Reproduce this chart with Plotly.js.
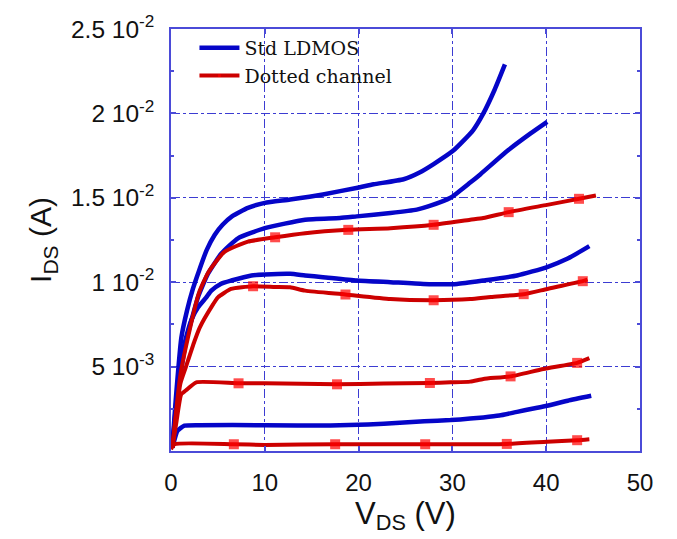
<!DOCTYPE html>
<html>
<head>
<meta charset="utf-8">
<script src="https://cdn.plot.ly/plotly-3.0.1.min.js"></script>
<style>html,body{margin:0;padding:0;background:#fff;}#chart{width:677px;height:539px;}</style>
</head>
<body>
<div id="chart"></div>
<script>
// Std LDMOS curves (VDS in V, IDS in A)
const stdX1 = [0.15, 0.5, 1.1, 1.7, 2.33, 3.0, 3.8, 4.65, 5.5, 6.5, 8.2, 10, 12.7, 16.2, 19.9, 21.6, 24.8, 26.5, 28, 30.1, 32.2, 33.3, 34.5, 35.6];
const stdY1 = [0.0003, 0.003, 0.0067, 0.0083, 0.0096, 0.0107, 0.0119, 0.0128, 0.0134, 0.0139, 0.0144, 0.0147, 0.0149, 0.0152, 0.0156, 0.0158, 0.0161, 0.0165, 0.0170, 0.0178, 0.0190, 0.0200, 0.0214, 0.0229];
const stdX2 = [0.15, 0.6, 1.2, 1.6, 2.16, 2.87, 3.94, 5.37, 7.14, 10, 14.3, 18, 19.8, 23.4, 26.2, 27.5, 29.8, 31.9, 33, 35.9, 38.3, 40.1];
const stdY2 = [0.0002, 0.0028, 0.0052, 0.0065, 0.0077, 0.0091, 0.0105, 0.0117, 0.0126, 0.0132, 0.0137, 0.0138, 0.0139, 0.0141, 0.0143, 0.0145, 0.0150, 0.0159, 0.0164, 0.0178, 0.0188, 0.0195];
const stdX3 = [0.15, 0.55, 1.0, 1.6, 2.2, 2.87, 3.76, 4.3, 5.3, 6.44, 8.58, 10, 12.7, 14.3, 16.2, 19.8, 23.4, 26.9, 30.5, 33.3, 36.9, 40.1, 42.3, 44.6];
const stdY3 = [0.0002, 0.0028, 0.0050, 0.0067, 0.0078, 0.0085, 0.0091, 0.0095, 0.0099, 0.0101, 0.0104, 0.01046, 0.0105, 0.0104, 0.0103, 0.0101, 0.0100, 0.0099, 0.0099, 0.0101, 0.0104, 0.0109, 0.0114, 0.01214];
const stdX4 = [0.15, 0.7, 1.44, 3, 10, 17, 21, 24.4, 27, 29.8, 31.9, 33.3, 35, 36.9, 38.5, 40.1, 42.3, 44.8];
const stdY4 = [0.0002, 0.0012, 0.0015, 0.00153, 0.00153, 0.00151, 0.00157, 0.00167, 0.00176, 0.00183, 0.00192, 0.00199, 0.0021, 0.00232, 0.0025, 0.00268, 0.00298, 0.00327];

// Dotted channel curves
const dotX1 = [0.15, 1.0, 2.0, 3.0, 4.0, 5.7, 8.2, 11.1, 14.3, 18.9, 23.4, 28, 31.9, 33.3, 36, 40.1, 43.5, 45.3];
const dotY1 = [0.0002, 0.0045, 0.0072, 0.0094, 0.0106, 0.0118, 0.0124, 0.01266, 0.0129, 0.0131, 0.0132, 0.0134, 0.0137, 0.0138, 0.01415, 0.01458, 0.01494, 0.01514];
const dotMark1 = [11.1, 18.9, 28, 36, 43.5];
const dotX2 = [0.15, 1.0, 1.6, 2.5, 3.05, 4.5, 5.0, 6.4, 8.75, 11.1, 12.7, 14.3, 18.6, 23.4, 28, 31.9, 34.1, 37.6, 40.1, 43.9, 44.4];
const dotY2 = [0.0002, 0.0040, 0.0050, 0.0065, 0.0073, 0.0087, 0.0091, 0.0096, 0.00976, 0.00972, 0.0097, 0.0095, 0.00927, 0.0090, 0.00893, 0.0090, 0.00913, 0.00929, 0.0096, 0.01006, 0.01016];
const dotMark2 = [8.75, 18.6, 28, 37.6, 43.9];
const dotX3 = [0.15, 0.6, 1.1, 1.6, 2.7, 7.2, 10, 17.7, 22.7, 27.6, 29.8, 31.9, 33.3, 36.2, 39.7, 43.3, 44.6];
const dotY3 = [0.0002, 0.0018, 0.00337, 0.0036, 0.00407, 0.00401, 0.00401, 0.00395, 0.0040, 0.00403, 0.00407, 0.00411, 0.00427, 0.00442, 0.00486, 0.00522, 0.0055];
const dotMark3 = [7.2, 17.7, 27.6, 36.2, 43.3];
const dotX4 = [0.0, 0.37, 6.7, 10, 17.5, 27.1, 31.9, 35.8, 40.1, 43.3, 44.6];
const dotY4 = [0.0001, 0.0004, 0.0004, 0.00036, 0.0004, 0.0004, 0.0004, 0.00042, 0.00055, 0.00064, 0.0007];
const dotMark4 = [6.7, 17.5, 27.1, 35.8, 43.3];

const xTickVals = [0, 10, 20, 30, 40, 50];
const xTickText = ['0', '10', '20', '30', '40', '50'];
const yTickVals = [0.005, 0.01, 0.015, 0.02, 0.025];
const yTickText = ['5 10<sup>-3</sup>', '1 10<sup>-2</sup>', '1.5 10<sup>-2</sup>', '2 10<sup>-2</sup>', '2.5 10<sup>-2</sup>'];

const BLUE = '#0505c8';
const RED = '#cc0000';
const RED_MARK = '#ff0000';

const traces = [];
const stdSets = [[stdX1, stdY1], [stdX2, stdY2], [stdX3, stdY3], [stdX4, stdY4]];
stdSets.forEach((s, i) => {
  traces.push({
    x: s[0], y: s[1], type: 'scatter', mode: 'lines',
    name: 'Std LDMOS', legendgroup: 'std', showlegend: i === 0,
    line: {color: BLUE, width: 4.5, shape: 'spline', smoothing: 0.5}
  });
});
const dotSets = [[dotX1, dotY1, dotMark1], [dotX2, dotY2, dotMark2], [dotX3, dotY3, dotMark3], [dotX4, dotY4, dotMark4]];
dotSets.forEach((s, i) => {
  const sizes = s[0].map(v => s[2].includes(v) ? 10 : 0);
  traces.push({
    x: s[0], y: s[1], type: 'scatter', mode: 'lines+markers',
    name: 'Dotted channel', legendgroup: 'dot', showlegend: i === 0,
    line: {color: RED, width: 4, shape: 'spline', smoothing: 0.5},
    marker: {symbol: 'square', size: sizes, color: RED_MARK, line: {width: 0}}
  });
});

const axisColor = '#4b4bd8';
const gridColor = '#3c3cd2';
const layout = {
  width: 677, height: 539,
  margin: {l: 171, r: 37, t: 29, b: 88},
  paper_bgcolor: '#ffffff', plot_bgcolor: '#ffffff',
  showlegend: true,
  legend: {
    x: 0.05, y: 1.0, xanchor: 'left', yanchor: 'top',
    bgcolor: 'rgba(255,255,255,0)', borderwidth: 0,
    font: {family: 'DejaVu Serif', size: 19, color: '#111'},
    traceorder: 'grouped', tracegroupgap: 0, itemwidth: 40
  },
  xaxis: {
    range: [0, 50], tickmode: 'array', tickvals: xTickVals, ticktext: xTickText,
    ticks: 'inside', ticklen: 5, tickwidth: 1.5, tickcolor: axisColor,
    showline: true, linecolor: axisColor, linewidth: 1.5, mirror: 'ticks',
    showgrid: true, gridcolor: gridColor, gridwidth: 1, griddash: 'dashdot',
    zeroline: false, ticklabelstandoff: 9,
    tickfont: {family: 'Liberation Sans, Arial, sans-serif', size: 24, color: '#111'},
    title: {text: 'V<sub>DS</sub> (V)', font: {family: 'Liberation Sans, Arial, sans-serif', size: 31, color: '#111'}, standoff: 4}
  },
  yaxis: {
    range: [0, 0.025], tickmode: 'array', tickvals: yTickVals, ticktext: yTickText,
    ticks: 'inside', ticklen: 5, tickwidth: 1.5, tickcolor: axisColor,
    minor: {ticks: 'inside', ticklen: 3, tickcolor: axisColor, dtick: 0.0025, showgrid: false},
    showline: true, linecolor: axisColor, linewidth: 1.5, mirror: 'ticks',
    showgrid: true, gridcolor: gridColor, gridwidth: 1, griddash: 'dashdot',
    zeroline: false, ticklabelstandoff: 10,
    tickfont: {family: 'Liberation Sans, Arial, sans-serif', size: 24.5, color: '#111'},
    title: {text: 'I<sub>DS</sub> (A)', font: {family: 'Liberation Sans, Arial, sans-serif', size: 30, color: '#111'}, standoff: 10}
  }
};

Plotly.newPlot('chart', traces, layout, {displayModeBar: false, responsive: false});
</script>
</body>
</html>
